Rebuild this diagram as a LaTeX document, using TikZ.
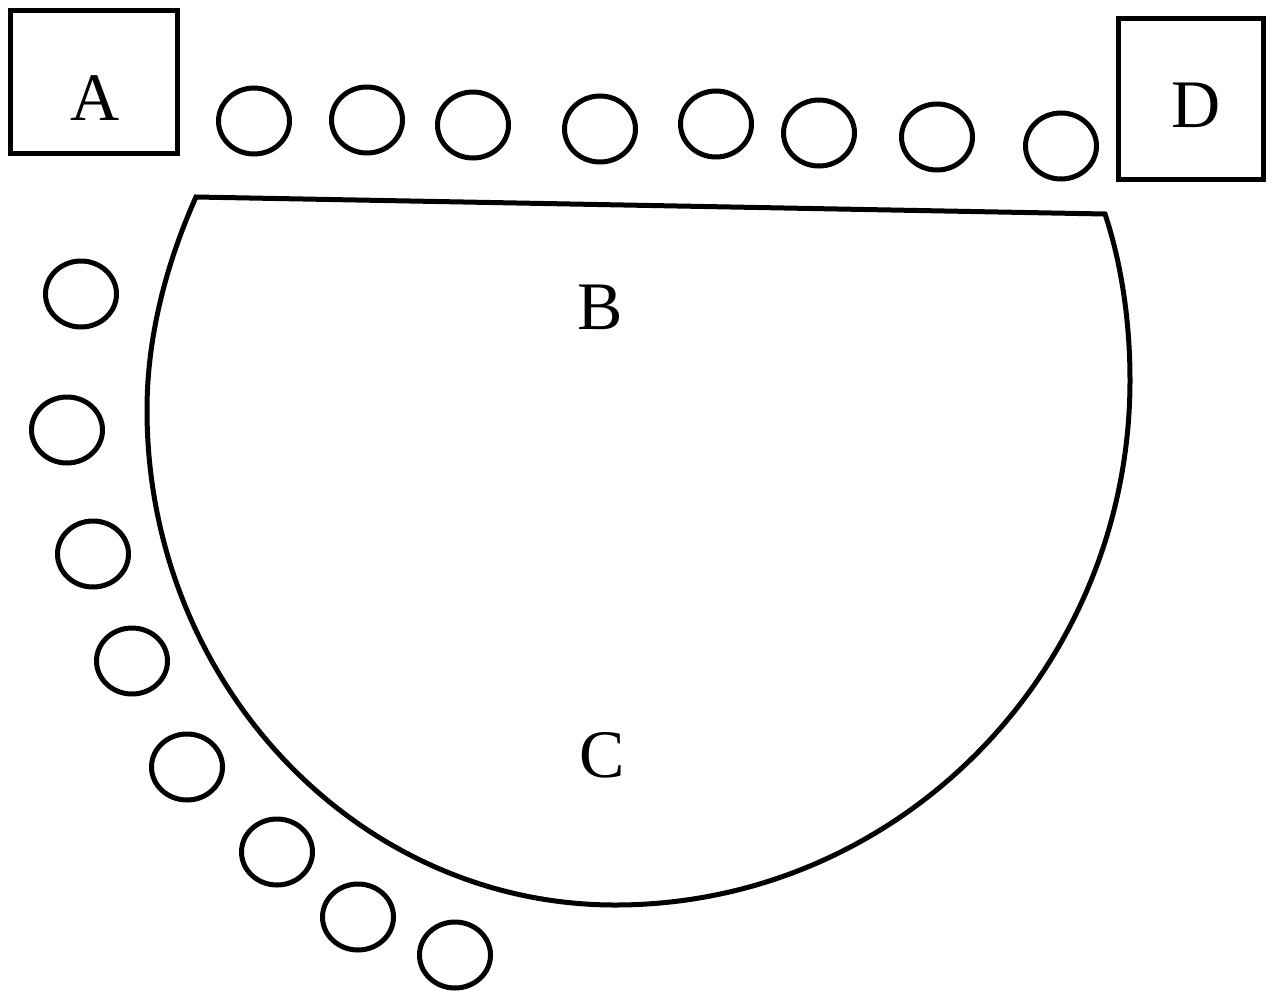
\documentclass[tikz,border=0pt]{standalone}
\usepackage{fontspec}
\setmainfont{Liberation Serif}
\usetikzlibrary{shapes.geometric}

\begin{document}
\begin{tikzpicture}[x=1pt, y=-1pt,
    ring/.style={ellipse, draw=black, line width=5pt, minimum width=71pt, minimum height=66pt, inner sep=0pt},
    bay/.style={rectangle, draw=black, line width=5pt, inner sep=0pt},
    tag/.style={font=\fontsize{68}{80}\selectfont}]
    \useasboundingbox (0,0) rectangle (1272,1001);
    % corner boxes
    \node[bay, minimum width=167pt, minimum height=143pt] (a) at (94,82) {};
    \node[tag] (alabel) at (95,98) {A};
    \node[bay, minimum width=145pt, minimum height=161pt] (d) at (1191,99) {};
    \node[tag] (dlabel) at (1196,105) {D};
    % the bowl
    \draw[line width=5pt, line join=miter] (196,197) -- (1105,214)
        .. controls (1121,262) and (1130,320) .. (1130,380)
        .. controls (1130,670) and (899,905) .. (615,905)
        .. controls (357,905) and (147,683) .. (147,410)
        .. controls (147,330) and (170,255) .. cycle;
    \node[tag] (blabel) at (600,307) {B};
    \node[tag] (clabel) at (602,755) {C};
    % top row
    \foreach \x/\y [count=\i] in {254/121, 367/120, 473/125, 600/129, 716/124, 819/133, 937/137, 1061/146}
        \node[ring] (t\i) at (\x,\y) {};
    % left arc
    \foreach \x/\y [count=\i] in {81/294, 67/430, 93/554, 132/661, 187/767, 277/852, 358/917, 455/955}
        \node[ring] (l\i) at (\x,\y) {};
\end{tikzpicture}
\end{document}
